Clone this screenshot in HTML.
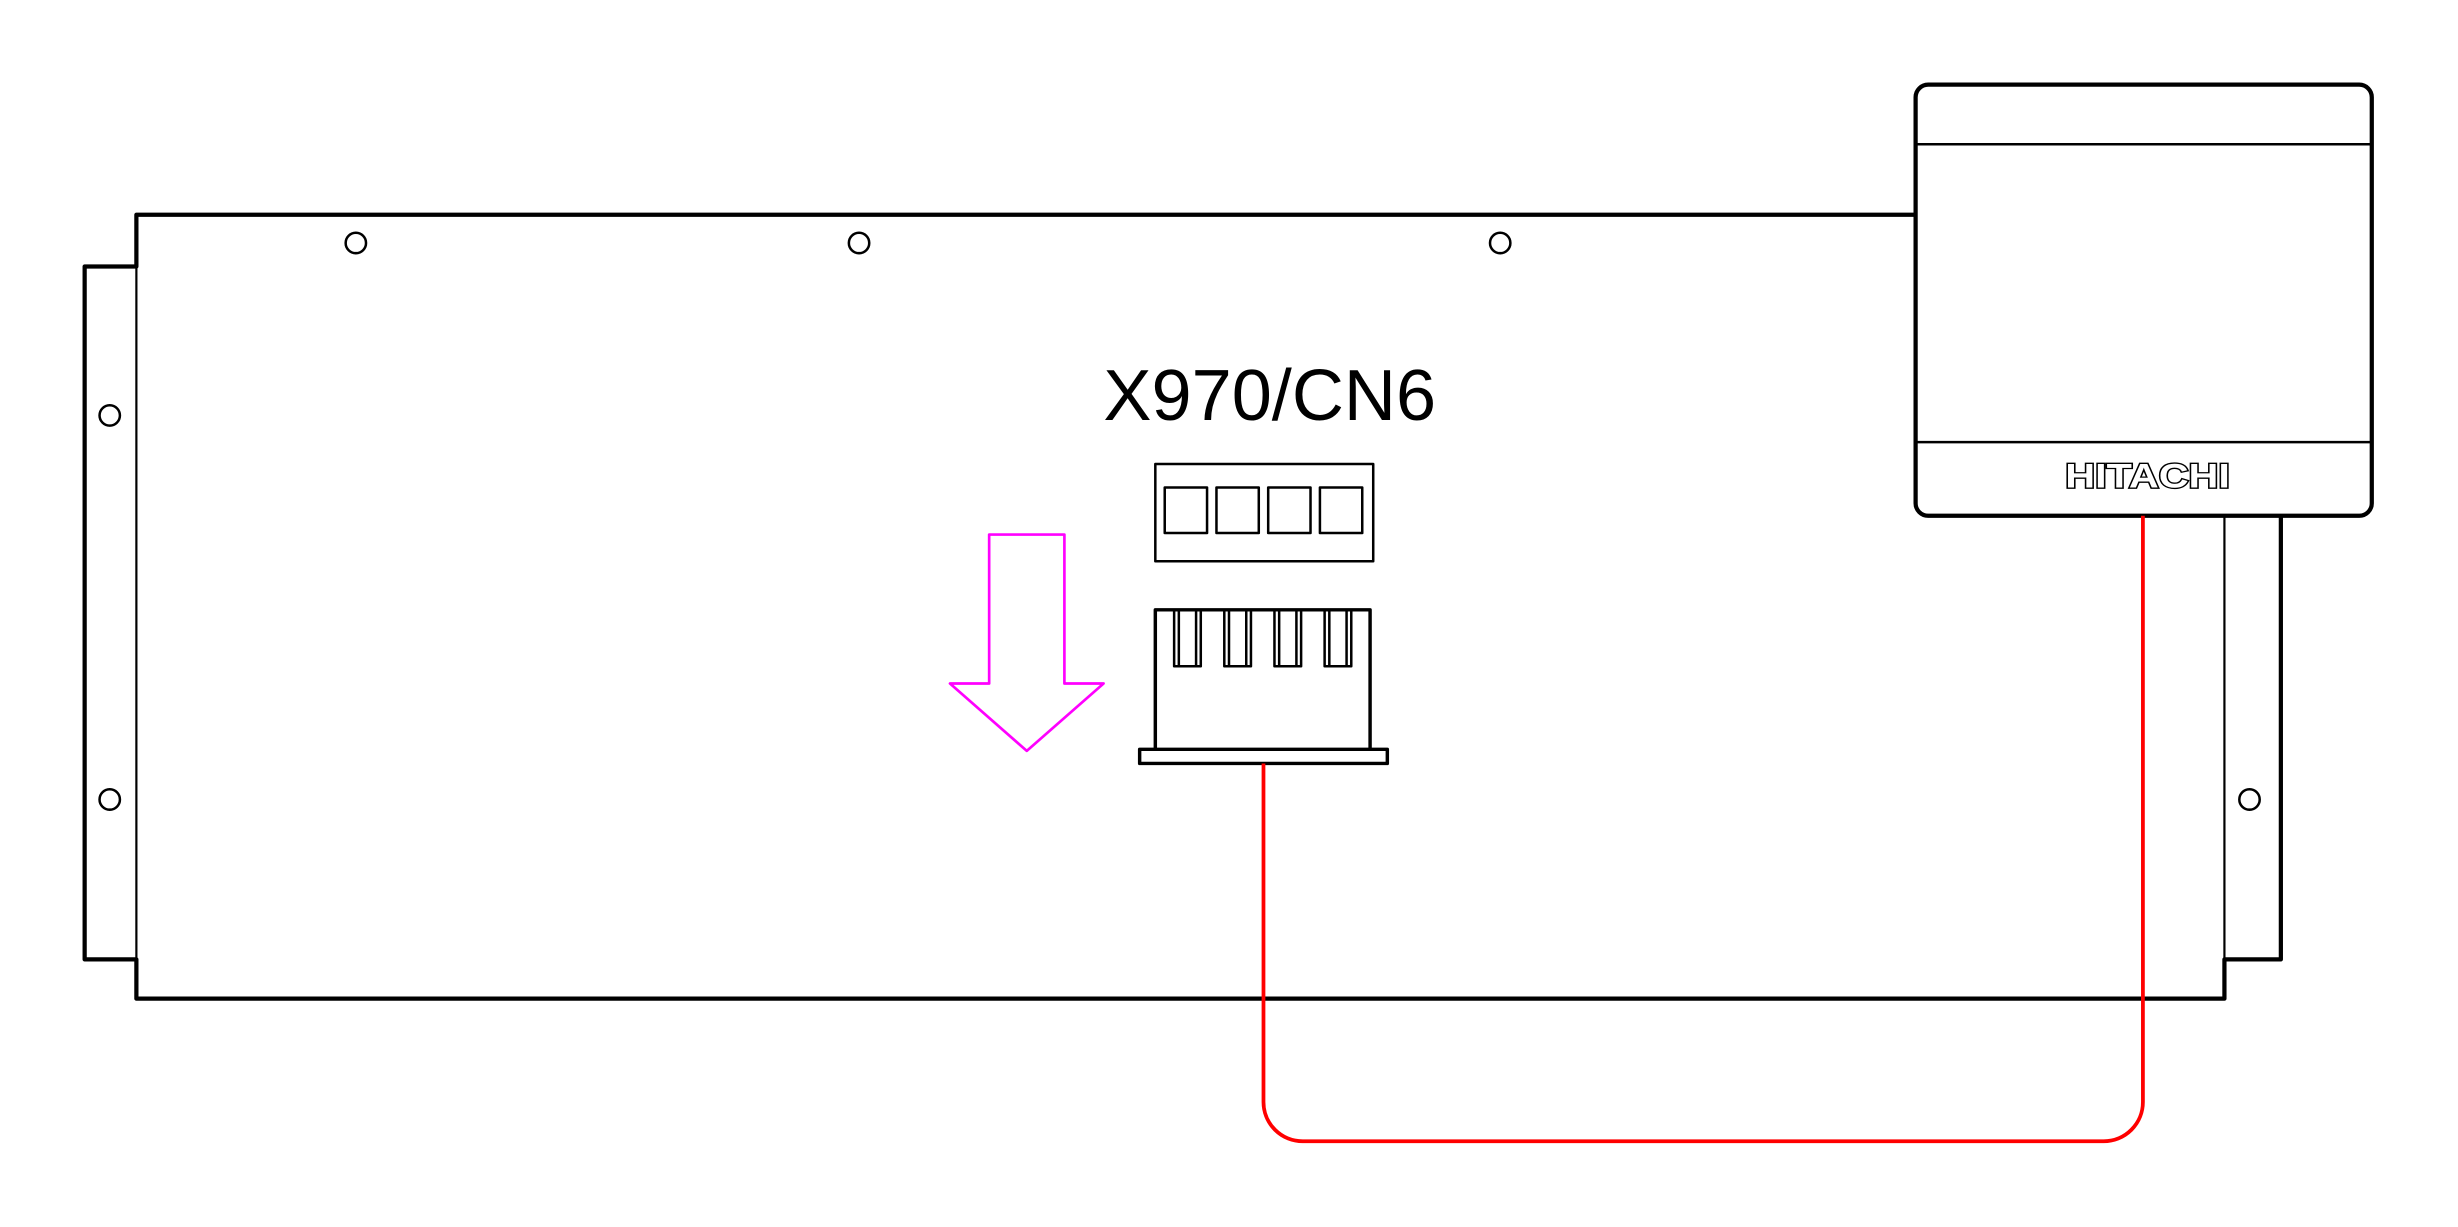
<!DOCTYPE html>
<html><head><meta charset="utf-8"><style>html,body{margin:0;padding:0;background:#fff}svg{display:block}</style></head>
<body>
<svg width="2458" height="1227" viewBox="0 0 1568 782.7" xmlns="http://www.w3.org/2000/svg">
<rect width="1568" height="782.7" fill="#fff"/>
<g fill="none" stroke="#000" stroke-linejoin="round">
  <polyline points="1222,137 87,137 87,170 54,170 54,612 87,612 87,637 1419,637 1419,612 1455,612 1455,329" stroke-width="2.7"/>
  <line x1="87" y1="170" x2="87" y2="612" stroke-width="1.4"/>
  <line x1="1419" y1="329" x2="1419" y2="612" stroke-width="1.4"/>
  <g stroke-width="1.6">
    <circle cx="227" cy="155" r="6.5"/>
    <circle cx="548" cy="155" r="6.5"/>
    <circle cx="957" cy="155" r="6.5"/>
    <circle cx="70" cy="265" r="6.5"/>
    <circle cx="70" cy="510" r="6.5"/>
    <circle cx="1435" cy="510" r="6.5"/>
  </g>
  <rect x="1222" y="54" width="291" height="275" rx="8" stroke-width="2.7" fill="#fff"/>
  <line x1="1222" y1="92" x2="1513" y2="92" stroke-width="1.6"/>
  <line x1="1222" y1="282" x2="1513" y2="282" stroke-width="1.6"/>
  <rect x="737" y="296" width="139" height="62" stroke-width="1.6"/>
  <rect x="743" y="311" width="27" height="29" stroke-width="1.6"/>
  <rect x="776" y="311" width="27" height="29" stroke-width="1.6"/>
  <rect x="809" y="311" width="27" height="29" stroke-width="1.6"/>
  <rect x="842" y="311" width="27" height="29" stroke-width="1.6"/>
  <polyline points="737,478 737,389 874,389 874,478" stroke-width="2.2"/>
  <rect x="727" y="478" width="158" height="9" stroke-width="2.2"/>
  <g stroke-width="1.6">
    <rect x="749" y="389" width="17" height="36"/><line x1="752" y1="389" x2="752" y2="425"/><line x1="763" y1="389" x2="763" y2="425"/>
    <rect x="781" y="389" width="17" height="36"/><line x1="784" y1="389" x2="784" y2="425"/><line x1="795" y1="389" x2="795" y2="425"/>
    <rect x="813" y="389" width="17" height="36"/><line x1="816" y1="389" x2="816" y2="425"/><line x1="827" y1="389" x2="827" y2="425"/>
    <rect x="845" y="389" width="17" height="36"/><line x1="848" y1="389" x2="848" y2="425"/><line x1="859" y1="389" x2="859" y2="425"/>
  </g>
  <polygon points="631,341 679,341 679,436 704,436 655,479 606,436 631,436" stroke="#ff00ff" stroke-width="1.7"/>
  <path d="M806,487 V703 A25,25 0 0 0 831,728 H1342 A25,25 0 0 0 1367,703 V329" stroke="#ff0000" stroke-width="2.4"/>
</g>
<text x="810" y="268" text-anchor="middle" font-family="Liberation Sans, sans-serif" font-size="46">X970/CN6</text>
<text x="1370" y="311" text-anchor="middle" font-family="Liberation Sans, sans-serif" font-weight="bold" font-size="22" textLength="105" lengthAdjust="spacingAndGlyphs" fill="#fff" stroke="#000" stroke-width="1.7" paint-order="stroke">HITACHI</text>
</svg>
</body></html>
